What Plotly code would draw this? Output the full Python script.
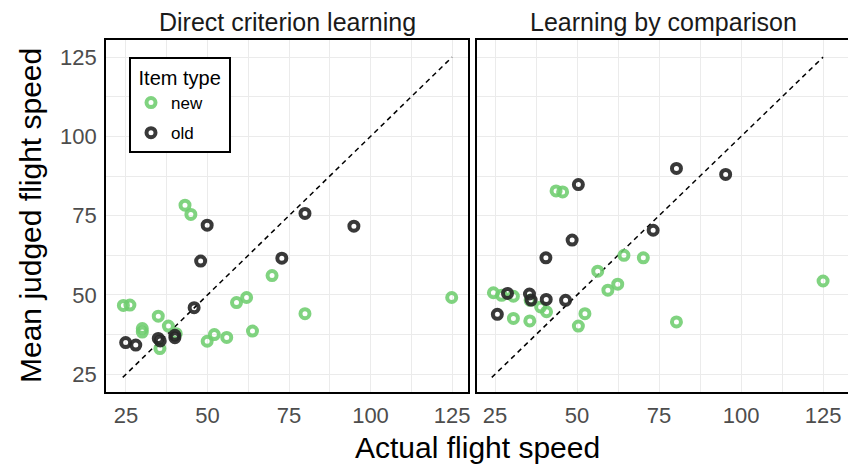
import plotly.graph_objects as go

# page offset: browser body margin of 8px
OFF = 8
W, H = 856 - OFF, 465 - OFF

panels = ["Direct criterion learning", "Learning by comparison"]

left_new_x = [43.1, 44.9, 69.8, 58.9, 62.0, 24.2, 26.2, 34.9, 30.0, 30.0, 38.0, 35.4, 40.4, 49.9, 52.1, 55.9, 63.8, 79.9, 124.9]
left_new_y = [78.3, 75.4, 56.1, 47.6, 49.2, 46.7, 46.8, 43.3, 39.4, 38.3, 40.2, 33.1, 37.8, 35.4, 37.5, 36.6, 38.6, 44.1, 49.2]
left_old_x = [49.9, 47.9, 72.8, 45.9, 34.9, 35.5, 40.0, 40.0, 24.9, 28.0, 79.9, 94.9]
left_old_y = [72.0, 60.7, 61.6, 46.0, 36.3, 35.5, 37.3, 36.5, 35.0, 34.2, 75.7, 71.7]

right_new_x = [43.6, 45.6, 64.3, 70.2, 56.3, 59.4, 62.4, 24.5, 27.0, 30.6, 35.7, 38.9, 40.7, 30.6, 35.6, 50.4, 52.4, 80.3, 125.0]
right_new_y = [82.8, 82.5, 62.5, 61.7, 57.5, 51.5, 53.4, 50.7, 49.9, 49.6, 48.3, 46.2, 44.7, 42.6, 41.8, 40.2, 44.1, 41.5, 54.4]
right_old_x = [50.4, 48.5, 40.5, 73.2, 46.5, 40.6, 28.8, 35.5, 36.0, 25.7, 80.3, 95.3]
right_old_y = [84.8, 67.3, 61.7, 70.4, 48.3, 48.6, 50.5, 50.3, 48.4, 43.9, 89.9, 88.0]

diag = [24, 125]
ticks = [25, 50, 75, 100, 125]

GREEN = "rgba(110,205,110,0.88)"
DARK = "rgba(40,40,40,0.92)"
FONT = "Liberation Sans, Arial"

fig = go.Figure()

def add_pts(x, y, name, color, ax, show):
    fig.add_trace(go.Scatter(
        x=x, y=y, mode="markers", name=name, legendgroup=name, showlegend=show,
        marker=dict(symbol="circle-open", size=9, color=color, line=dict(width=4, color=color)),
        xaxis=ax[0], yaxis=ax[1]))

for ax in [("x", "y"), ("x2", "y2")]:
    fig.add_trace(go.Scatter(x=diag, y=diag, mode="lines", showlegend=False,
                             line=dict(color="black", width=1.5, dash="5px,4px"),
                             xaxis=ax[0], yaxis=ax[1], hoverinfo="skip"))

add_pts(left_new_x, left_new_y, "new", GREEN, ("x", "y"), True)
add_pts(left_old_x, left_old_y, "old", DARK, ("x", "y"), True)
add_pts(right_new_x, right_new_y, "new", GREEN, ("x2", "y2"), False)
add_pts(right_old_x, right_old_y, "old", DARK, ("x2", "y2"), False)

def px_x(p):
    return (p - OFF) / W

def px_y(p):
    return 1 - (p - OFF) / H

grid = "#ebebeb"
common = dict(tickmode="array", tickvals=ticks, ticktext=[str(t) for t in ticks],
              showgrid=True, gridcolor=grid, gridwidth=1.3,
              minor=dict(tickmode="array", tickvals=[12.5, 37.5, 62.5, 87.5, 112.5, 137.5],
                         showgrid=True, gridcolor=grid, gridwidth=0.8),
              showline=True, mirror=True, linecolor="black", linewidth=1.6,
              zeroline=False, ticks="", ticklabelstandoff=3, automargin=False,
              tickfont=dict(family=FONT, size=22, color="#4d4d4d"))

fig.update_layout(
    width=W, height=H,
    margin=dict(l=0, r=0, t=0, b=0, autoexpand=False),
    paper_bgcolor="white", plot_bgcolor="white",
    xaxis=dict(common, domain=[px_x(106), px_x(468)], range=[18.87, 129.9]),
    xaxis2=dict(common, domain=[px_x(477), px_x(849)], range=[19.5, 132.9]),
    yaxis=dict(common, domain=[px_y(392), px_y(40)], range=[19.4, 130.4], anchor="x"),
    yaxis2=dict(common, domain=[px_y(392), px_y(40)], range=[19.4, 130.4], anchor="x2",
                showticklabels=False),
    legend=dict(x=px_x(129), y=px_y(57), xanchor="left", yanchor="top",
                bordercolor="black", borderwidth=2, bgcolor="white",
                title=dict(text="&nbsp;Item type&nbsp;",
                           font=dict(family=FONT, size=20, color="black")),
                font=dict(family=FONT, size=17, color="black"),
                tracegroupgap=5),
    showlegend=True,
)

fig.add_annotation(text=panels[0], x=(px_x(106) + px_x(468)) / 2, y=px_y(22), xref="paper", yref="paper",
                   xanchor="center", yanchor="middle", showarrow=False,
                   font=dict(family=FONT, size=25, color="#1a1a1a"))
fig.add_annotation(text=panels[1], x=(px_x(477) + px_x(849)) / 2, y=px_y(22), xref="paper", yref="paper",
                   xanchor="center", yanchor="middle", showarrow=False,
                   font=dict(family=FONT, size=25, color="#1a1a1a"))
fig.add_annotation(text="Actual flight speed", x=(px_x(106) + px_x(849)) / 2, y=px_y(447), xref="paper", yref="paper",
                   xanchor="center", yanchor="middle", showarrow=False,
                   font=dict(family=FONT, size=30, color="black"))
fig.add_annotation(text="Mean judged flight speed", x=px_x(30), y=px_y(216), xref="paper", yref="paper",
                   xanchor="center", yanchor="middle", showarrow=False, textangle=-90,
                   font=dict(family=FONT, size=30, color="black"))

fig.write_html("out.html")
